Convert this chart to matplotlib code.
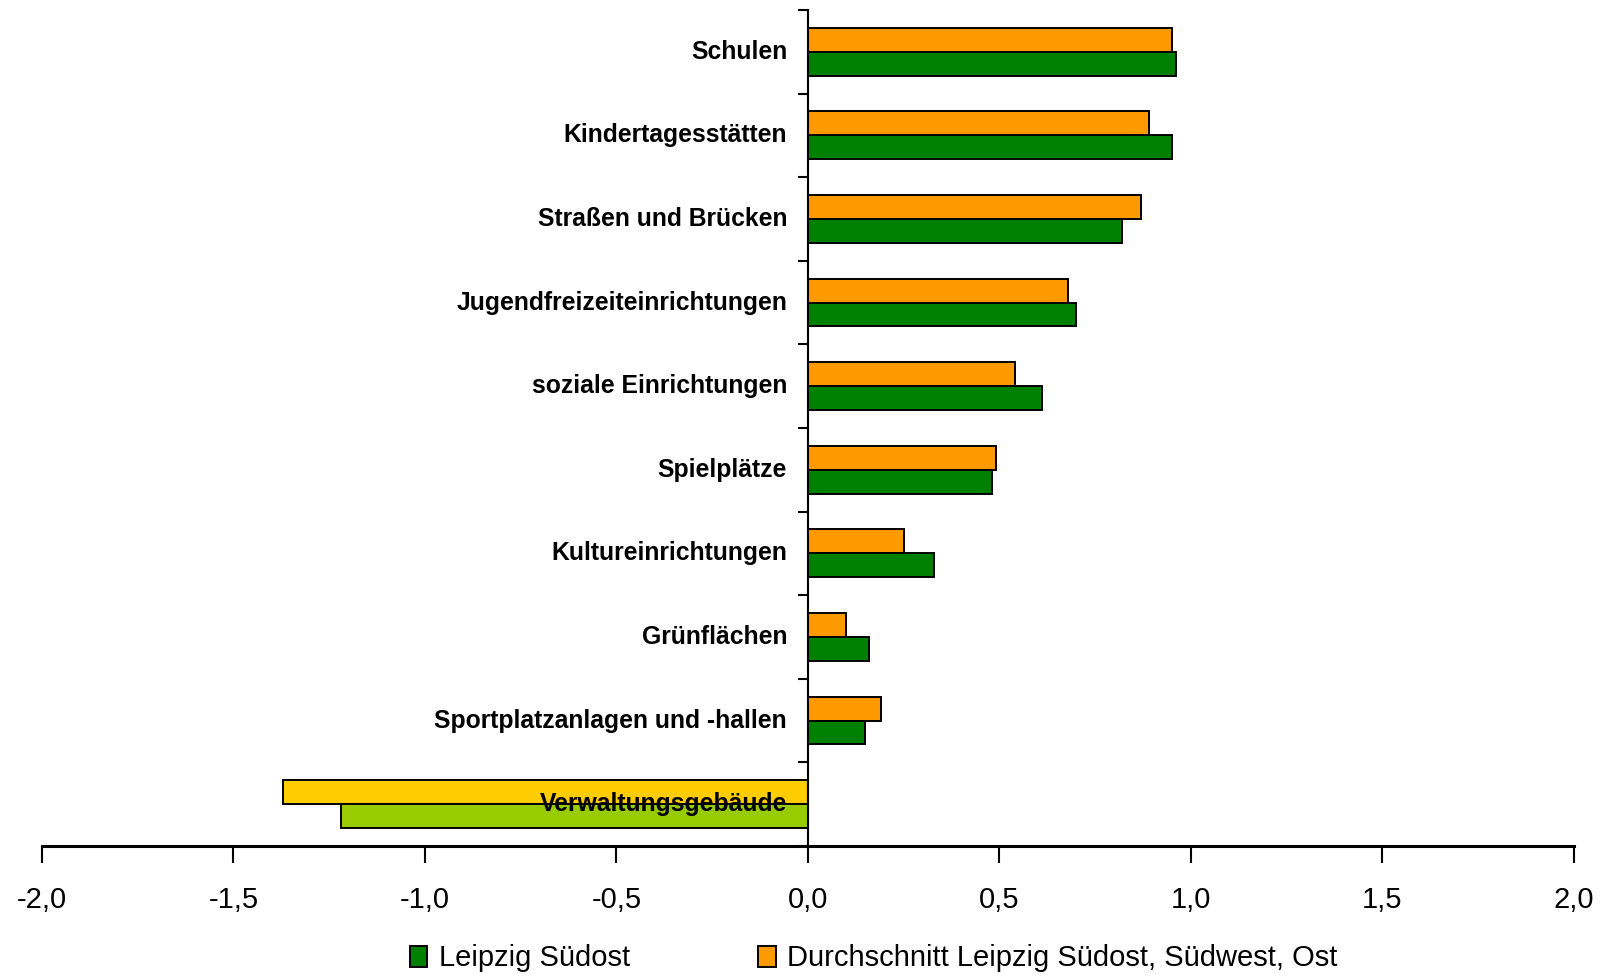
import matplotlib
matplotlib.use("Agg")
import matplotlib.pyplot as plt
import matplotlib.patches as mpatches
import numpy as np

plt.rcParams["font.family"] = ["Liberation Sans", "DejaVu Sans"]

# Kategorien von oben nach unten
categories = [
    "Schulen",
    "Kindertagesstätten",
    "Straßen und Brücken",
    "Jugendfreizeiteinrichtungen",
    "soziale Einrichtungen",
    "Spielplätze",
    "Kultureinrichtungen",
    "Grünflächen",
    "Sportplatzanlagen und -hallen",
    "Verwaltungsgebäude",
]
leipzig_suedost = [0.96, 0.95, 0.82, 0.70, 0.61, 0.48, 0.33, 0.16, 0.15, -1.22]
durchschnitt = [0.95, 0.89, 0.87, 0.68, 0.54, 0.49, 0.25, 0.10, 0.19, -1.37]

x_ticks = [-2.0, -1.5, -1.0, -0.5, 0.0, 0.5, 1.0, 1.5, 2.0]
x_ticklabels = ["-2,0", "-1,5", "-1,0", "-0,5", "0,0", "0,5", "1,0", "1,5", "2,0"]

series_names = ["Leipzig Südost", "Durchschnitt Leipzig Südost, Südwest, Ost"]

GREEN = "#008000"
ORANGE = "#FF9900"
GREEN_HL = "#99CC00"   # hervorgehobene Kategorie
ORANGE_HL = "#FFCC00"

fig = plt.figure(figsize=(16.03, 9.76), dpi=100)
ax = fig.add_axes([0.0262, 0.1332, 0.9556, 0.8566])

y = np.arange(len(categories))
h = 0.2857

green_colors = [GREEN] * (len(categories) - 1) + [GREEN_HL]
orange_colors = [ORANGE] * (len(categories) - 1) + [ORANGE_HL]

ax.barh(y - h / 2, durchschnitt, height=h, color=orange_colors,
        edgecolor="black", linewidth=1.4)
ax.barh(y + h / 2, leipzig_suedost, height=h, color=green_colors,
        edgecolor="black", linewidth=1.4)

ax.set_xlim(-2.0, 2.0)
ax.set_ylim(len(categories) - 0.5, -0.5)

# Achsen
for side in ["top", "right"]:
    ax.spines[side].set_visible(False)
ax.spines["left"].set_position(("data", 0))
ax.spines["left"].set_linewidth(1.5)
ax.spines["bottom"].set_linewidth(2.2)

ax.set_xticks(x_ticks)
ax.set_xticklabels(x_ticklabels, fontsize=21)
ax.tick_params(axis="x", direction="out", length=12, width=1.5, pad=17)

# Kategoriegrenzen als Ticks, Beschriftung mittig
ax.set_yticks(np.arange(len(categories) + 1) - 0.5)
ax.set_yticklabels([])
ax.tick_params(axis="y", which="major", direction="out", length=7, width=1.5)
ax.set_yticks(y - 0.03, minor=True)
ax.set_yticklabels(categories, minor=True, fontsize=17.8, fontweight="bold")
ax.tick_params(axis="y", which="minor", length=0, pad=15)

handles = [
    mpatches.Patch(facecolor=GREEN, edgecolor="black", linewidth=1.4),
    mpatches.Patch(facecolor=ORANGE, edgecolor="black", linewidth=1.4),
]
fig.legend(handles, series_names, loc="center", bbox_to_anchor=(0.545, 0.018),
           ncol=2, frameon=False, fontsize=21, handlelength=0.6,
           handleheight=0.75, handletextpad=0.4, columnspacing=4.4,
           borderpad=0.0)

fig.savefig("out.png", dpi=100, facecolor="white")
